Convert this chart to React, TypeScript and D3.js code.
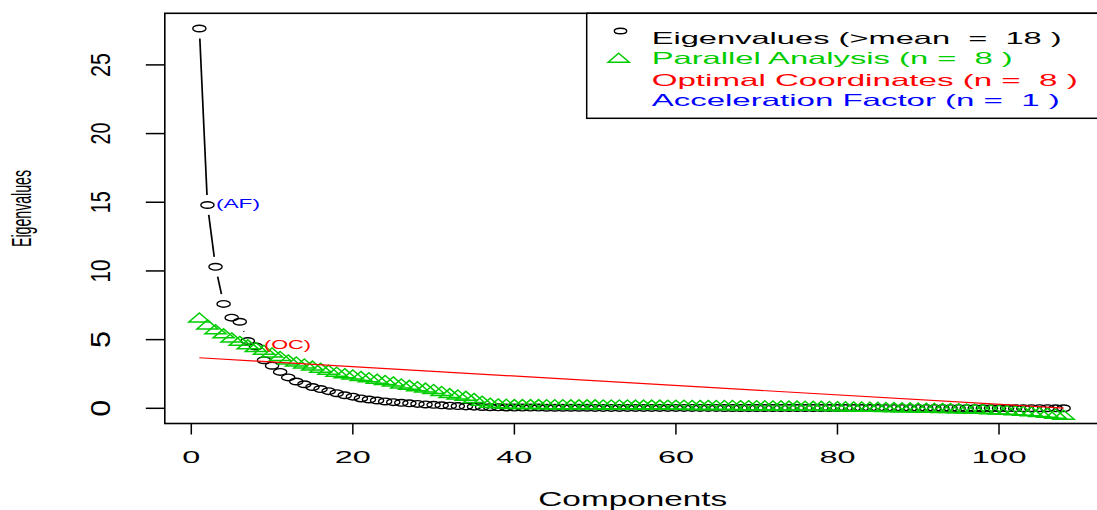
import * as d3 from "d3";

// eigenvalues of the 108 components
const eigenvalues = [
  27.65, 14.8, 10.3, 7.6, 6.6, 6.3, 4.9, 4.5, 3.5, 3.1,
  2.65, 2.25, 1.95, 1.75, 1.55, 1.4, 1.25, 1.1, 0.95, 0.85,
  0.72, 0.64, 0.57, 0.5, 0.45, 0.4, 0.36, 0.32, 0.28, 0.25,
  0.22, 0.19, 0.16, 0.14, 0.12, 0.1, 0.08, 0.07, 0.06, 0.05,
  0.05, 0.05, 0.05, 0.04, 0.04, 0.04, 0.04, 0.04, 0.04, 0.03,
  0.03, 0.03, 0.03, 0.03, 0.03, 0.03, 0.03, 0.03, 0.03, 0.03,
  0.03, 0.03, 0.03, 0.03, 0.03, 0.02, 0.02, 0.02, 0.02, 0.02,
  0.02, 0.02, 0.02, 0.02, 0.02, 0.02, 0.02, 0.02, 0.02, 0.02,
  0.02, 0.02, 0.02, 0.02, 0.02, 0.01, 0.01, 0.01, 0.01, 0.01,
  0.01, 0.01, 0.01, 0.01, 0.01, 0.01, 0.01, 0.01, 0.01, 0.01,
  0.01, 0.01, 0.01, 0.01, 0.01, 0.01, 0.0, 0.0,
];

// parallel analysis
const parallel = [
  6.5, 6.0, 5.65, 5.35, 5.05, 4.8, 4.55, 4.35, 4.15, 3.95,
  3.7, 3.45, 3.3, 3.15, 3.0, 2.85, 2.7, 2.55, 2.45, 2.35,
  2.25, 2.15, 2.05, 1.95, 1.85, 1.7, 1.6, 1.5, 1.4, 1.3,
  1.15, 1.0, 0.9, 0.8, 0.65, 0.45, 0.3, 0.25, 0.22, 0.2,
  0.2, 0.2, 0.2, 0.19, 0.19, 0.19, 0.18, 0.18, 0.18, 0.18,
  0.17, 0.17, 0.17, 0.17, 0.16, 0.16, 0.16, 0.16, 0.15, 0.15,
  0.15, 0.14, 0.14, 0.14, 0.13, 0.13, 0.13, 0.12, 0.12, 0.11,
  0.11, 0.1, 0.1, 0.09, 0.09, 0.08, 0.07, 0.07, 0.06, 0.05,
  0.04, 0.03, 0.02, 0.01, 0.0, -0.01, -0.02, -0.03, -0.04, -0.05,
  -0.06, -0.07, -0.08, -0.09, -0.1, -0.12, -0.13, -0.15, -0.17, -0.19,
  -0.22, -0.25, -0.29, -0.33, -0.38, -0.43, -0.5, -0.58,
];

// optimal coordinates line (component, value)
const ocLine = [
  { c: 1, v: 3.68 },
  { c: 108, v: 0.02 },
];

const afComponent = 2;
const ocComponent = 8;

const xTicks = [0, 20, 40, 60, 80, 100];
const yTicks = [0, 5, 10, 15, 20, 25];

const legendLabels = [
  "Eigenvalues (>mean  =  18 )",
  "Parallel Analysis (n =  8 )",
  "Optimal Coordinates (n =  8 )",
  "Acceleration Factor (n =  1 )",
];
const legendColors = ["#000000", "#00CD00", "#FF0000", "#0000FF"];
const legendLengths = [410, 361, 426, 408];

const FONT = "'Liberation Sans', Arial, Helvetica, sans-serif";
const GREEN = "#00CD00";

// rotated text, widened horizontally like the stretched original
const VText = ({ bx, cy, size, sx, len, children }) => (
  <text
    x={0}
    y={0}
    fontSize={size}
    textAnchor="middle"
    transform={`translate(${bx},${cy}) scale(${sx},1) rotate(-90)`}
    textLength={len}
    lengthAdjust="spacingAndGlyphs"
  >
    {children}
  </text>
);

const App = () => {
  const width = 1097;
  const height = 510;
  const components = eigenvalues.map((_, i) => i + 1);

  // R style 4% axis padding
  const xExt = d3.extent(components) as [number, number];
  const xPad = (xExt[1] - xExt[0]) * 0.04;
  const x = d3
    .scaleLinear()
    .domain([xExt[0] - xPad, xExt[1] + xPad])
    .range([164.8, 1098.2]);

  const yExt = d3.extent(eigenvalues) as [number, number];
  const yPad = (yExt[1] - yExt[0]) * 0.04;
  const y = d3
    .scaleLinear()
    .domain([yExt[0] - yPad, yExt[1] + yPad])
    .range([423.5, 13.3]);

  const [left, right] = x.range();
  const [bottom, top] = y.range();

  // type = "b": segments with a gap around every point
  const gap = 10;
  const segments = [];
  for (let i = 0; i < eigenvalues.length - 1; i++) {
    const x0 = x(i + 1), y0 = y(eigenvalues[i]);
    const x1 = x(i + 2), y1 = y(eigenvalues[i + 1]);
    const d = Math.hypot(x1 - x0, y1 - y0);
    if (d <= gap * 2) continue;
    const ux = (x1 - x0) / d, uy = (y1 - y0) / d;
    segments.push(
      <line
        key={i}
        x1={x0 + ux * gap}
        y1={y0 + uy * gap}
        x2={x1 - ux * gap}
        y2={y1 - uy * gap}
        stroke="#000"
        strokeWidth={1.7}
      />
    );
  }

  const triangle = (cx, cy) =>
    `M${cx},${cy - 6}L${cx + 10.5},${cy + 3}L${cx - 10.5},${cy + 3}Z`;

  const ocPath = d3
    .line()
    .x((d) => x(d.c))
    .y((d) => y(d.v));

  const legendLeft = 586.7;
  const legendBaselines = [43.5, 64.2, 85.5, 106.3];
  const yTickLen = [17, 17, 23, 22, 22, 24];

  return (
    <svg
      width={width}
      height={height}
      style={{ position: "absolute", left: 0, top: 0, background: "#fff" }}
      fontFamily={FONT}
    >
      <defs>
        <clipPath id="plot-clip">
          <rect x={left} y={top} width={right - left} height={bottom - top} />
        </clipPath>
      </defs>

      <g clipPath="url(#plot-clip)">
        {segments}
        {eigenvalues.map((v, i) => (
          <ellipse
            key={i}
            cx={x(i + 1)}
            cy={y(v)}
            rx={6.6}
            ry={3.3}
            fill="none"
            stroke="#000"
            strokeWidth={1.4}
          />
        ))}
        {parallel.map((v, i) => (
          <path
            key={i}
            d={triangle(x(i + 1), y(v))}
            fill="none"
            stroke={GREEN}
            strokeWidth={1.5}
          />
        ))}
        <path d={ocPath(ocLine)} fill="none" stroke="#FF0000" strokeWidth={1.2} />
      </g>

      <text
        x={x(afComponent) + 8.5}
        y={y(eigenvalues[afComponent - 1]) + 2.5}
        fontSize={13}
        fill="#0000FF"
        textLength={44}
        lengthAdjust="spacingAndGlyphs"
      >
        (AF)
      </text>
      <text
        x={x(ocComponent) + 8}
        y={y(eigenvalues[ocComponent - 1]) + 3}
        fontSize={13}
        fill="#FF0000"
        textLength={47}
        lengthAdjust="spacingAndGlyphs"
      >
        (OC)
      </text>

      {/* plot box */}
      <rect
        x={left}
        y={top}
        width={right - left}
        height={bottom - top}
        fill="none"
        stroke="#000"
        strokeWidth={1.6}
      />

      {/* x axis */}
      {xTicks.map((t) => (
        <g key={t}>
          <line x1={x(t)} x2={x(t)} y1={bottom} y2={bottom + 11} stroke="#000" strokeWidth={1.5} />
          <text
            x={x(t)}
            y={463.3}
            fontSize={16}
            textAnchor="middle"
            textLength={t === 0 ? 18 : t === 100 ? 55 : 36}
            lengthAdjust="spacingAndGlyphs"
          >
            {t}
          </text>
        </g>
      ))}
      <text
        x={632.8}
        y={506}
        fontSize={20}
        textAnchor="middle"
        textLength={189}
        lengthAdjust="spacingAndGlyphs"
      >
        Components
      </text>

      {/* y axis */}
      {yTicks.map((t, i) => (
        <g key={t}>
          <line x1={left - 19} x2={left} y1={y(t)} y2={y(t)} stroke="#000" strokeWidth={1.5} />
          <VText bx={110} cy={y(t)} size={19} sx={1.47} len={yTickLen[i]}>
            {t}
          </VText>
        </g>
      ))}
      <VText bx={31} cy={208.5} size={15} sx={1.8} len={77}>
        Eigenvalues
      </VText>

      {/* legend */}
      <rect
        x={legendLeft}
        y={top}
        width={right - legendLeft}
        height={118.3 - top}
        fill="#fff"
        stroke="#000"
        strokeWidth={1.5}
      />
      <ellipse cx={620.5} cy={31} rx={6.2} ry={2.8} fill="none" stroke="#000" strokeWidth={1.4} />
      <path d={triangle(618.7, 59.3)} fill="none" stroke={GREEN} strokeWidth={1.5} />
      {legendLabels.map((label, i) => (
        <text
          key={label}
          x={651.7}
          y={legendBaselines[i]}
          fontSize={16.5}
          fill={legendColors[i]}
          textLength={legendLengths[i]}
          lengthAdjust="spacingAndGlyphs"
          style={{ whiteSpace: "pre" }}
        >
          {label}
        </text>
      ))}
    </svg>
  );
};

export default App;
